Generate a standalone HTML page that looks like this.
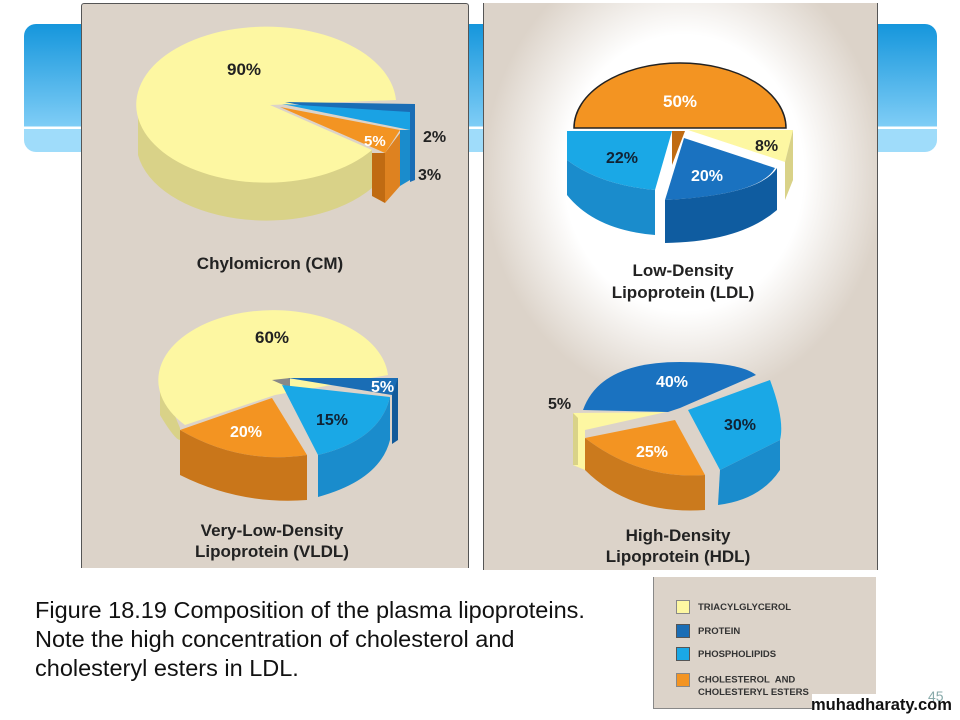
<!DOCTYPE html>
<html><head><style>
body{margin:0;width:960px;height:720px;overflow:hidden;background:#fff;font-family:"Liberation Sans",sans-serif;position:relative}
.a{position:absolute}
</style></head><body>
<div class="a" style="left:24px;top:24px;width:70px;height:128px;border-radius:12px;background:linear-gradient(#1596dc,#7fcdf6 80%,#fff 80%,#fff 82%,#9fdcfa 82%)"></div>
<div class="a" style="left:460px;top:24px;width:30px;height:128px;background:linear-gradient(#1596dc,#7fcdf6 80%,#fff 80%,#fff 82%,#9fdcfa 82%)"></div>
<div class="a" style="left:866px;top:24px;width:71px;height:128px;border-radius:12px;background:linear-gradient(#1596dc,#7fcdf6 80%,#fff 80%,#fff 82%,#9fdcfa 82%)"></div>
<div class="a" style="left:81px;top:3px;width:386px;height:564px;background:#dcd3c9;border:1.5px solid #555;border-bottom:none;border-radius:3px 3px 0 0"></div>
<div class="a" style="left:483px;top:3px;width:393px;height:567px;background:radial-gradient(ellipse 200px 230px at 200px 170px,#fff 60%,#dcd3c9 100%);border-left:1.5px solid #555;border-right:1.5px solid #555"></div>
<svg class="a" style="left:0;top:0" width="960" height="720" font-family="Liberation Sans,sans-serif" font-weight="bold">
<!-- CM -->
<path d="M138 105 V155 A130 78 0 0 0 372 188 V150 Z" fill="#d9d288"/>
<path d="M270 105 L396 100 A130 78 0 1 0 372 150 Z" fill="#fdf7a2"/>
<path d="M285 102 L415 104 V180 L410 182 V128 Z" fill="#1a6db5"/>
<path d="M282 104 L410 112 L410 130 Z" fill="#1aa2e4"/>
<path d="M400 130 L410 130 V180 L400 186 Z" fill="#1a8ccc"/>
<path d="M280 107 L400 130 L385 153 Z" fill="#f39422"/>
<path d="M372 153 H385 V203 L372 196 Z" fill="#c06b12"/>
<path d="M385 153 L400 133 V186 L385 203 Z" fill="#de8220"/>
<text x="227" y="75" font-size="17" fill="#222">90%</text>
<text x="364" y="146" font-size="15" fill="#fff">5%</text>
<text x="423" y="142" font-size="16" fill="#222">2%</text>
<text x="418" y="180" font-size="16" fill="#222">3%</text>
<text x="270" y="269" font-size="17" fill="#222" text-anchor="middle">Chylomicron (CM)</text>
<!-- VLDL -->
<path d="M160 380 V415 Q175 440 180 440 L180 428 Z" fill="#d9d288"/>
<path d="M275 395 L388 375 A115 70 0 1 0 185 425 Z" fill="#fdf7a2"/>
<path d="M272 380 L290 378 L290 388 Z" fill="#888"/>
<path d="M180 430 L272 398 L307 455 Q240 465 180 430 Z" fill="#f39422"/>
<path d="M180 430 Q240 465 307 455 V500 Q240 505 180 475 Z" fill="#c9761a"/>
<path d="M282 385 L390 397 Q380 440 318 455 Z" fill="#1aa8e6"/>
<path d="M318 455 Q380 440 390 397 V440 Q380 480 318 497 Z" fill="#1a8ccc"/>
<path d="M288 378 L398 378 V400 L392 395 Z" fill="#1a6db5"/>
<path d="M398 378 V440 L392 444 V395 Z" fill="#125a9a"/>
<text x="255" y="343" font-size="17" fill="#222">60%</text>
<text x="230" y="437" font-size="16" fill="#fff">20%</text>
<text x="316" y="425" font-size="16" fill="#123">15%</text>
<text x="371" y="392" font-size="16" fill="#fff">5%</text>
<text x="272" y="536" font-size="17" fill="#222" text-anchor="middle">Very-Low-Density</text>
<text x="272" y="557" font-size="17" fill="#222" text-anchor="middle">Lipoprotein (VLDL)</text>
<!-- LDL -->
<path d="M574 128 A106 65 0 0 1 786 128 Z" fill="#f39422" stroke="#222" stroke-width="1.5"/>
<path d="M567 131 L672 131 L655 190 Q600 185 567 160 Z" fill="#1aa8e6"/>
<path d="M567 160 Q600 185 655 190 L655 235 Q595 230 567 195 Z" fill="#1a8ccc"/>
<path d="M672 131 L685 131 L672 165 Z" fill="#c06b12"/>
<path d="M684 138 L775 168 Q760 195 665 200 Z" fill="#1a72c0"/>
<path d="M665 200 Q760 195 777 168 V210 Q740 242 665 243 Z" fill="#0f5ca0"/>
<path d="M688 130 L793 130 L785 162 Z" fill="#fdf7a2"/>
<path d="M785 162 L793 130 V180 L785 200 Z" fill="#d9d288"/>
<text x="680" y="107" font-size="17" fill="#fff" text-anchor="middle">50%</text>
<text x="606" y="163" font-size="16" fill="#123">22%</text>
<text x="691" y="181" font-size="16" fill="#fff">20%</text>
<text x="755" y="151" font-size="16" fill="#222">8%</text>
<text x="683" y="276" font-size="17" fill="#222" text-anchor="middle">Low-Density</text>
<text x="683" y="298" font-size="17" fill="#222" text-anchor="middle">Lipoprotein (LDL)</text>
<!-- HDL -->
<path d="M583 410 Q600 362 680 362 Q740 362 756 375 L680 408 L668 412 Z" fill="#1a72c0"/>
<path d="M573 413 L666 412 L585 430 V470 L573 465 Z" fill="#fdf7a2"/>
<path d="M573 413 V465 L578 465 V418 Z" fill="#d9d288"/>
<path d="M585 438 L675 420 L705 475 Q640 480 585 438 Z" fill="#f39422"/>
<path d="M585 438 Q640 480 705 475 V510 Q630 515 585 470 Z" fill="#cb7a1d"/>
<path d="M688 410 L770 380 Q785 420 780 440 L720 470 Z" fill="#1aa8e6"/>
<path d="M720 470 L780 440 V470 Q760 500 718 505 Z" fill="#1a8ccc"/>
<text x="672" y="387" font-size="16" fill="#fff" text-anchor="middle">40%</text>
<text x="548" y="409" font-size="16" fill="#222">5%</text>
<text x="724" y="430" font-size="16" fill="#123">30%</text>
<text x="636" y="457" font-size="16" fill="#fff">25%</text>
<text x="678" y="541" font-size="17" fill="#222" text-anchor="middle">High-Density</text>
<text x="678" y="562" font-size="17" fill="#222" text-anchor="middle">Lipoprotein (HDL)</text>
</svg>
<div class="a" style="left:653px;top:577px;width:222px;height:131px;background:#dcd3c9;border-left:1px solid #888;border-bottom:1px solid #888"></div>
<div class="a" style="left:676px;top:596px;font-size:9.5px;font-weight:bold;color:#333;line-height:23.5px">
<div><span style="display:inline-block;width:12px;height:12px;background:#fdf7a2;border:1px solid #888;vertical-align:middle;margin-right:8px"></span>TRIACYLGLYCEROL</div>
<div><span style="display:inline-block;width:12px;height:12px;background:#1a6db5;border:1px solid #555;vertical-align:middle;margin-right:8px"></span>PROTEIN</div>
<div><span style="display:inline-block;width:12px;height:12px;background:#1aa8e6;border:1px solid #555;vertical-align:middle;margin-right:8px"></span>PHOSPHOLIPIDS</div>
<div style="line-height:12px;margin-top:6px"><span style="display:inline-block;width:12px;height:12px;background:#f39422;border:1px solid #888;vertical-align:middle;margin-right:8px"></span>CHOLESTEROL&nbsp; AND<br><span style="margin-left:22px">CHOLESTERYL ESTERS</span></div>
</div>
<div class="a" style="left:35px;top:596px;font-size:23.5px;line-height:29px;color:#111">Figure 18.19 Composition of the plasma lipoproteins.<br>Note the high concentration of cholesterol and<br>cholesteryl esters in LDL.</div>
<div class="a" style="left:812px;top:694px;width:148px;height:26px;background:#fff"></div>
<div class="a" style="left:928px;top:688px;font-size:14px;color:#8aa">45</div>
<div class="a" style="left:811px;top:696px;font-size:16.5px;font-weight:bold;color:#111;font-family:'Liberation Sans',sans-serif;white-space:nowrap">muhadharaty.com</div>
</body></html>
